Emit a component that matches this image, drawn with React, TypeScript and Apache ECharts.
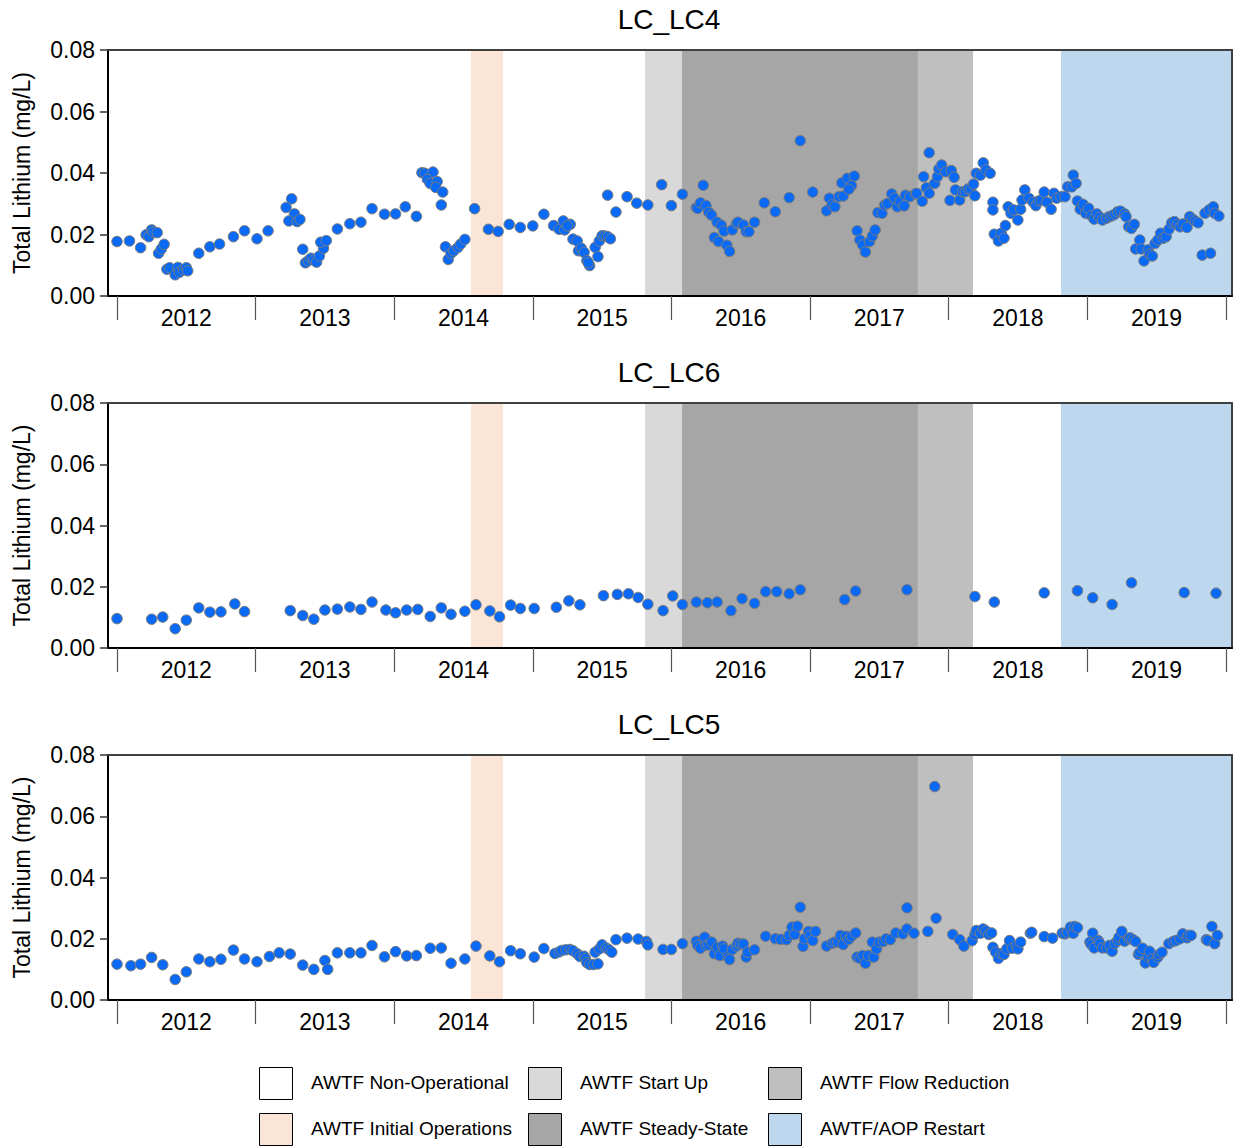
import React, { useEffect, useRef } from "react";
import * as echarts from "echarts";

// ---------- data ----------
const siteTitles = ["LC_LC4", "LC_LC6", "LC_LC5"];
const yearTicks = [2012, 2013, 2014, 2015, 2016, 2017, 2018, 2019, 2020];
const yearLabelPositions = [2012.5, 2013.5, 2014.5, 2015.5, 2016.5, 2017.5, 2018.5, 2019.5];
const yMin = 0;
const yMax = 0.08;
const yStep = 0.02;
const xMin = 2011.935;
const xMax = 2020.045;

// [decimal year, total lithium mg/L]
const lc4: number[][] = [
  [2012.0, 0.0177], [2012.09, 0.0179], [2012.17, 0.0157], [2012.21, 0.0199], [2012.23, 0.0193], [2012.25, 0.0215],
  [2012.26, 0.0208], [2012.29, 0.0206], [2012.3, 0.0139], [2012.32, 0.0153], [2012.34, 0.0168], [2012.36, 0.0087],
  [2012.38, 0.0092], [2012.42, 0.0069], [2012.44, 0.0093], [2012.45, 0.0077], [2012.48, 0.0085], [2012.5, 0.0092],
  [2012.51, 0.0082], [2012.59, 0.0139], [2012.67, 0.016], [2012.74, 0.0169], [2012.84, 0.0193], [2012.92, 0.0212],
  [2013.01, 0.0186], [2013.09, 0.0212], [2013.22, 0.0288], [2013.26, 0.0316], [2013.28, 0.0267], [2013.24, 0.0244],
  [2013.3, 0.0242], [2013.32, 0.0249], [2013.34, 0.0152], [2013.36, 0.0108], [2013.38, 0.0115], [2013.4, 0.0123],
  [2013.42, 0.0117], [2013.44, 0.011], [2013.46, 0.013], [2013.49, 0.0155], [2013.47, 0.0175], [2013.51, 0.018],
  [2013.59, 0.0218], [2013.68, 0.0235], [2013.76, 0.024], [2013.84, 0.0284], [2013.93, 0.0266], [2014.01, 0.0267],
  [2014.08, 0.029], [2014.16, 0.0259], [2014.2, 0.0401], [2014.22, 0.0399], [2014.28, 0.0403], [2014.24, 0.0379],
  [2014.26, 0.0366], [2014.31, 0.0372], [2014.3, 0.0353], [2014.35, 0.0338], [2014.34, 0.0296], [2014.37, 0.016],
  [2014.39, 0.0119], [2014.41, 0.0139], [2014.43, 0.0147], [2014.46, 0.0158], [2014.48, 0.0169], [2014.51, 0.0184],
  [2014.58, 0.0284], [2014.68, 0.0217], [2014.75, 0.021], [2014.83, 0.0233], [2014.91, 0.0223], [2015.0, 0.0228],
  [2015.08, 0.0266], [2015.15, 0.0229], [2015.19, 0.0217], [2015.22, 0.0244], [2015.23, 0.0215], [2015.27, 0.0233],
  [2015.25, 0.0228], [2015.29, 0.0185], [2015.32, 0.0179], [2015.33, 0.0147], [2015.35, 0.0155], [2015.37, 0.0142],
  [2015.39, 0.0115], [2015.41, 0.0099], [2015.4, 0.0108], [2015.45, 0.0158], [2015.47, 0.0128], [2015.48, 0.0179],
  [2015.5, 0.0196], [2015.52, 0.0195], [2015.54, 0.0193], [2015.56, 0.0186], [2015.54, 0.0328], [2015.6, 0.0273],
  [2015.68, 0.0323], [2015.75, 0.0302], [2015.83, 0.0296], [2015.93, 0.0362], [2016.0, 0.0294], [2016.08, 0.0331],
  [2016.23, 0.036], [2016.18, 0.0287], [2016.19, 0.0285], [2016.21, 0.0303], [2016.25, 0.0294], [2016.27, 0.0272],
  [2016.29, 0.0263], [2016.33, 0.024], [2016.36, 0.023], [2016.38, 0.0211], [2016.31, 0.019], [2016.34, 0.0177],
  [2016.4, 0.0165], [2016.42, 0.0145], [2016.44, 0.0215], [2016.47, 0.0236], [2016.48, 0.024], [2016.52, 0.0231],
  [2016.54, 0.0209], [2016.56, 0.0209], [2016.6, 0.024], [2016.67, 0.0303], [2016.75, 0.0274], [2016.85, 0.032],
  [2016.93, 0.0505], [2017.02, 0.0338], [2017.12, 0.0277], [2017.14, 0.0318], [2017.16, 0.0296], [2017.18, 0.029],
  [2017.21, 0.0323], [2017.24, 0.0325], [2017.23, 0.0368], [2017.27, 0.0383], [2017.3, 0.0359], [2017.32, 0.039],
  [2017.28, 0.0347], [2017.34, 0.0212], [2017.36, 0.0182], [2017.38, 0.0166], [2017.4, 0.0143], [2017.43, 0.0177],
  [2017.45, 0.0195], [2017.47, 0.0215], [2017.49, 0.0271], [2017.52, 0.0269], [2017.54, 0.0296], [2017.56, 0.0301],
  [2017.59, 0.0332], [2017.61, 0.0318], [2017.63, 0.029], [2017.65, 0.0307], [2017.68, 0.0293], [2017.69, 0.0328],
  [2017.72, 0.0323], [2017.76, 0.0332], [2017.77, 0.0334], [2017.81, 0.0308], [2017.82, 0.0388], [2017.84, 0.0352],
  [2017.86, 0.0466], [2017.86, 0.0334], [2017.9, 0.0366], [2017.92, 0.0388], [2017.93, 0.0413], [2017.95, 0.0426],
  [2017.98, 0.0404], [2018.01, 0.0311], [2018.02, 0.0408], [2018.04, 0.0386], [2018.05, 0.0345], [2018.08, 0.0312],
  [2018.1, 0.0339], [2018.12, 0.0339], [2018.14, 0.0348], [2018.16, 0.0348], [2018.18, 0.0364], [2018.19, 0.0326],
  [2018.2, 0.0399], [2018.23, 0.0393], [2018.25, 0.0433], [2018.27, 0.041], [2018.3, 0.0399], [2018.32, 0.0305],
  [2018.32, 0.028], [2018.33, 0.0201], [2018.36, 0.0179], [2018.38, 0.0204], [2018.4, 0.0188], [2018.41, 0.0229],
  [2018.43, 0.029], [2018.45, 0.0269], [2018.47, 0.028], [2018.5, 0.0247], [2018.52, 0.0282], [2018.53, 0.0312],
  [2018.55, 0.0345], [2018.58, 0.0318], [2018.61, 0.0305], [2018.63, 0.0294], [2018.65, 0.0309], [2018.67, 0.0312],
  [2018.69, 0.0338], [2018.71, 0.0305], [2018.74, 0.0282], [2018.76, 0.0334], [2018.78, 0.0318], [2018.81, 0.0323],
  [2018.84, 0.0323], [2018.86, 0.0355], [2018.89, 0.0355], [2018.9, 0.0393], [2018.92, 0.0366], [2018.93, 0.0309],
  [2018.95, 0.0282], [2018.97, 0.0298], [2018.99, 0.0269], [2019.01, 0.0285], [2019.03, 0.0261], [2019.05, 0.025],
  [2019.07, 0.0267], [2019.09, 0.0256], [2019.11, 0.0247], [2019.14, 0.0253], [2019.16, 0.0258], [2019.18, 0.0261],
  [2019.2, 0.0266], [2019.22, 0.0274], [2019.24, 0.0276], [2019.27, 0.0267], [2019.28, 0.0258], [2019.3, 0.0225],
  [2019.32, 0.022], [2019.34, 0.0233], [2019.35, 0.0153], [2019.38, 0.0182], [2019.39, 0.0153], [2019.41, 0.0114],
  [2019.44, 0.015], [2019.45, 0.0136], [2019.47, 0.013], [2019.49, 0.0171], [2019.51, 0.0182], [2019.53, 0.0204],
  [2019.55, 0.0188], [2019.57, 0.0193], [2019.59, 0.0217], [2019.61, 0.0238], [2019.63, 0.0242], [2019.65, 0.0233],
  [2019.67, 0.0225], [2019.69, 0.0234], [2019.72, 0.0223], [2019.74, 0.0258], [2019.76, 0.025], [2019.78, 0.0244],
  [2019.8, 0.0238], [2019.83, 0.0133], [2019.85, 0.0269], [2019.89, 0.0139], [2019.88, 0.028], [2019.91, 0.029],
  [2019.92, 0.0269], [2019.95, 0.026],
];

const lc6: number[][] = [
  [2012.0, 0.0096], [2012.25, 0.0094], [2012.33, 0.0101], [2012.42, 0.0063], [2012.5, 0.0091], [2012.59, 0.0131],
  [2012.67, 0.0117], [2012.75, 0.0118], [2012.85, 0.0144], [2012.92, 0.0119], [2013.25, 0.0122], [2013.34, 0.0106],
  [2013.42, 0.0094], [2013.5, 0.0124], [2013.59, 0.0127], [2013.68, 0.0134], [2013.76, 0.0126], [2013.84, 0.015],
  [2013.94, 0.0124], [2014.01, 0.0115], [2014.09, 0.0124], [2014.17, 0.0126], [2014.26, 0.0103], [2014.34, 0.0131],
  [2014.41, 0.011], [2014.51, 0.012], [2014.59, 0.0141], [2014.69, 0.0121], [2014.76, 0.0102], [2014.84, 0.014],
  [2014.91, 0.0129], [2015.01, 0.0129], [2015.17, 0.0133], [2015.26, 0.0154], [2015.34, 0.0141], [2015.51, 0.0171],
  [2015.61, 0.0175], [2015.69, 0.0177], [2015.76, 0.0165], [2015.83, 0.0143], [2015.94, 0.0122], [2016.01, 0.017],
  [2016.08, 0.0142], [2016.18, 0.015], [2016.26, 0.0148], [2016.33, 0.015], [2016.43, 0.0122], [2016.51, 0.0161],
  [2016.6, 0.0146], [2016.68, 0.0184], [2016.76, 0.0184], [2016.85, 0.0177], [2016.93, 0.019], [2017.25, 0.0158],
  [2017.33, 0.0186], [2017.7, 0.019], [2018.19, 0.0168], [2018.33, 0.015], [2018.69, 0.018], [2018.93, 0.0187],
  [2019.04, 0.0164], [2019.18, 0.0142], [2019.32, 0.0213], [2019.7, 0.0181], [2019.93, 0.0179],
];

const lc5: number[][] = [
  [2012.0, 0.0117], [2012.1, 0.0112], [2012.17, 0.0117], [2012.25, 0.0139], [2012.33, 0.0115], [2012.42, 0.0067],
  [2012.5, 0.0092], [2012.59, 0.0134], [2012.67, 0.0125], [2012.75, 0.0133], [2012.84, 0.0163], [2012.92, 0.0134],
  [2013.01, 0.0125], [2013.1, 0.0142], [2013.17, 0.0154], [2013.25, 0.015], [2013.34, 0.0114], [2013.42, 0.01],
  [2013.5, 0.0129], [2013.52, 0.01], [2013.59, 0.0154], [2013.68, 0.0154], [2013.76, 0.0154], [2013.84, 0.0178],
  [2013.93, 0.0141], [2014.01, 0.0158], [2014.09, 0.0144], [2014.16, 0.0145], [2014.26, 0.0169], [2014.34, 0.017],
  [2014.41, 0.012], [2014.51, 0.0134], [2014.59, 0.0176], [2014.69, 0.0144], [2014.76, 0.0125], [2014.84, 0.0161],
  [2014.91, 0.0151], [2015.01, 0.014], [2015.08, 0.0168], [2015.16, 0.0152], [2015.19, 0.0157], [2015.21, 0.0162],
  [2015.24, 0.0164], [2015.27, 0.0165], [2015.29, 0.0161], [2015.32, 0.0151], [2015.34, 0.0142], [2015.37, 0.0143],
  [2015.38, 0.0135], [2015.39, 0.0122], [2015.41, 0.0116], [2015.44, 0.0116], [2015.47, 0.0118], [2015.45, 0.0156],
  [2015.48, 0.0167], [2015.5, 0.018], [2015.53, 0.017], [2015.55, 0.0164], [2015.57, 0.0156], [2015.6, 0.0197],
  [2015.68, 0.0202], [2015.76, 0.0199], [2015.82, 0.0191], [2015.83, 0.018], [2015.94, 0.0165], [2016.0, 0.0165],
  [2016.08, 0.0184], [2016.18, 0.0192], [2016.19, 0.0178], [2016.21, 0.0169], [2016.24, 0.0205], [2016.25, 0.0178],
  [2016.27, 0.018], [2016.29, 0.0189], [2016.31, 0.0151], [2016.33, 0.0172], [2016.35, 0.0145], [2016.37, 0.0176],
  [2016.38, 0.0167], [2016.41, 0.014], [2016.42, 0.0132], [2016.44, 0.0165], [2016.47, 0.0176], [2016.48, 0.0185],
  [2016.5, 0.0183], [2016.52, 0.0183], [2016.54, 0.014], [2016.55, 0.0156], [2016.6, 0.0164], [2016.68, 0.0208],
  [2016.75, 0.02], [2016.79, 0.0198], [2016.83, 0.0197], [2016.85, 0.0211], [2016.87, 0.0238], [2016.89, 0.0214],
  [2016.91, 0.0241], [2016.93, 0.0303], [2016.95, 0.0175], [2016.96, 0.02], [2016.99, 0.0224], [2017.0, 0.0211],
  [2017.02, 0.0194], [2017.04, 0.0224], [2017.12, 0.0176], [2017.16, 0.0185], [2017.18, 0.0189], [2017.2, 0.0189],
  [2017.22, 0.0211], [2017.24, 0.0181], [2017.26, 0.0208], [2017.28, 0.0198], [2017.3, 0.0208], [2017.33, 0.0219],
  [2017.34, 0.014], [2017.36, 0.0136], [2017.38, 0.0145], [2017.4, 0.012], [2017.42, 0.0145], [2017.45, 0.0189],
  [2017.46, 0.014], [2017.48, 0.0167], [2017.5, 0.0189], [2017.53, 0.0191], [2017.55, 0.02], [2017.58, 0.0197],
  [2017.62, 0.0219], [2017.67, 0.0216], [2017.7, 0.0301], [2017.7, 0.0232], [2017.75, 0.0218], [2017.85, 0.0224],
  [2017.9, 0.0697], [2017.91, 0.0267], [2018.03, 0.0214], [2018.08, 0.0197], [2018.11, 0.0176], [2018.17, 0.0194],
  [2018.19, 0.0214], [2018.2, 0.0227], [2018.23, 0.0218], [2018.25, 0.0232], [2018.27, 0.0225], [2018.29, 0.0214],
  [2018.31, 0.0219], [2018.32, 0.0172], [2018.34, 0.0156], [2018.36, 0.0136], [2018.38, 0.0151], [2018.4, 0.0149],
  [2018.42, 0.0167], [2018.44, 0.0194], [2018.46, 0.0169], [2018.49, 0.0178], [2018.5, 0.0167], [2018.52, 0.0189],
  [2018.59, 0.0218], [2018.6, 0.0221], [2018.69, 0.0207], [2018.75, 0.0202], [2018.82, 0.0218], [2018.84, 0.0216],
  [2018.86, 0.0221], [2018.88, 0.0238], [2018.9, 0.0218], [2018.91, 0.024], [2018.93, 0.0236], [2019.04, 0.0218],
  [2019.02, 0.0189], [2019.03, 0.0181], [2019.05, 0.017], [2019.08, 0.0194], [2019.09, 0.0185], [2019.11, 0.017],
  [2019.14, 0.017], [2019.16, 0.0178], [2019.18, 0.0159], [2019.2, 0.0185], [2019.22, 0.0194], [2019.23, 0.0205],
  [2019.25, 0.0224], [2019.27, 0.0192], [2019.3, 0.02], [2019.31, 0.0203], [2019.33, 0.0197], [2019.35, 0.0191],
  [2019.37, 0.0149], [2019.38, 0.0156], [2019.4, 0.0169], [2019.42, 0.0121], [2019.44, 0.014], [2019.45, 0.0159],
  [2019.47, 0.0134], [2019.48, 0.0123], [2019.51, 0.014], [2019.52, 0.0149], [2019.54, 0.0156], [2019.59, 0.0184],
  [2019.62, 0.0191], [2019.64, 0.0194], [2019.67, 0.02], [2019.69, 0.0216], [2019.72, 0.0203], [2019.73, 0.0211],
  [2019.75, 0.0211], [2019.86, 0.0197], [2019.87, 0.0194], [2019.9, 0.024], [2019.92, 0.0184], [2019.94, 0.0211],
];

const siteData = [lc4, lc6, lc5];

// operational phases shaded behind the points (decimal years)
const phaseNames = ["AWTF Initial Operations", "AWTF Start Up", "AWTF Steady-State", "AWTF Flow Reduction", "AWTF/AOP Restart"];
const phaseStarts = [2014.554, 2015.81, 2016.077, 2017.779, 2018.811];
const phaseEnds = [2014.785, 2016.077, 2017.779, 2018.176, xMax];
const phaseColors = ["#FBE5D6", "#D9D9D9", "#A6A6A6", "#BFBFBF", "#BDD7EE"];

// legend, in reading order (two rows of three)
const legendNames = [
  "AWTF Non-Operational", "AWTF Start Up", "AWTF Flow Reduction",
  "AWTF Initial Operations", "AWTF Steady-State", "AWTF/AOP Restart",
];
const legendColors = ["#FFFFFF", "#D9D9D9", "#BFBFBF", "#FBE5D6", "#A6A6A6", "#BDD7EE"];

// ---------- layout ----------
const FONT = "'Liberation Sans', Arial, Helvetica, sans-serif";
const gridTops = [50, 403, 755];
const gridHeights = [246, 245, 245];
const GRID_LEFT = 108;
const GRID_WIDTH = 1124;

function buildOption() {
  const grids: any[] = [];
  const xAxes: any[] = [];
  const yAxes: any[] = [];
  const series: any[] = [];
  const titles: any[] = [];

  siteTitles.forEach((t, i) => {
    grids.push({ left: GRID_LEFT, top: gridTops[i], width: GRID_WIDTH, height: gridHeights[i], containLabel: false });
    titles.push({
      text: t,
      left: GRID_LEFT + GRID_WIDTH / 2 - 6,
      top: gridTops[i] - 50,
      textAlign: "center",
      textStyle: { fontFamily: FONT, fontSize: 28, fontWeight: "normal", color: "#000" },
    });
    // bottom x axis (ticks at year boundaries, labels mid-year)
    xAxes.push({
      type: "value",
      gridIndex: i,
      position: "bottom",
      min: xMin,
      max: xMax,
      z: 10,
      axisLine: { show: true, onZero: false, lineStyle: { color: "#000", width: 2 } },
      axisTick: { show: true, customValues: yearTicks, length: 24, lineStyle: { color: "#555", width: 1.2 } },
      axisLabel: {
        show: true,
        customValues: yearLabelPositions,
        formatter: (v: number) => String(Math.floor(v)),
        fontFamily: FONT,
        fontSize: 23,
        color: "#000",
        margin: 10,
      },
      splitLine: { show: false },
    });
    // top frame line
    xAxes.push({
      type: "value",
      gridIndex: i,
      position: "top",
      min: xMin,
      max: xMax,
      z: 10,
      axisLine: { show: true, onZero: false, lineStyle: { color: "#404040", width: 2 } },
      axisTick: { show: false },
      axisLabel: { show: false },
      splitLine: { show: false },
    });
    yAxes.push({
      type: "value",
      gridIndex: i,
      position: "left",
      min: yMin,
      max: yMax,
      interval: yStep,
      z: 10,
      name: "Total Lithium (mg/L)",
      nameLocation: "middle",
      nameGap: 75,
      nameTextStyle: { fontFamily: FONT, fontSize: 23, color: "#000" },
      axisLine: { show: true, onZero: false, lineStyle: { color: "#000", width: 2 } },
      axisTick: { show: true, length: 8, lineStyle: { color: "#333", width: 1.5 } },
      axisLabel: {
        fontFamily: FONT,
        fontSize: 23,
        color: "#000",
        margin: 13,
        formatter: (v: number) => v.toFixed(2),
      },
      splitLine: { show: false },
    });
    yAxes.push({
      type: "value",
      gridIndex: i,
      position: "right",
      min: yMin,
      max: yMax,
      interval: yStep,
      z: 10,
      axisLine: { show: true, onZero: false, lineStyle: { color: "#404040", width: 2 } },
      axisTick: { show: false },
      axisLabel: { show: false },
      splitLine: { show: false },
    });

    series.push({
      type: "scatter",
      name: t,
      xAxisIndex: i * 2,
      yAxisIndex: i * 2,
      data: siteData[i],
      symbol: "circle",
      symbolSize: 10.5,
      z: 3,
      itemStyle: { color: "#0A6AF5", borderColor: "#7A7A7A", borderWidth: 1, opacity: 1 },
      markArea: {
        silent: true,
        z: 1,
        label: { show: false },
        data: phaseNames.map((n, k) => [
          { name: n, xAxis: phaseStarts[k], itemStyle: { color: phaseColors[k], opacity: 1 } },
          { xAxis: phaseEnds[k] },
        ]),
      },
    });
  });

  const colX = [259, 528, 768];
  const rowY = [1067, 1113];
  const graphic: any[] = [];
  legendNames.forEach((n, i) => {
    const col = i % 3;
    const row = Math.floor(i / 3);
    graphic.push({
      type: "rect",
      left: colX[col],
      top: rowY[row],
      shape: { width: 33, height: 32 },
      style: { fill: legendColors[i], stroke: "#000", lineWidth: 1 },
    });
    graphic.push({
      type: "text",
      left: colX[col] + 52,
      top: rowY[row] + 6,
      style: { text: n, fontFamily: FONT, fontSize: 19, fill: "#000" },
    });
  });

  return {
    animation: false,
    backgroundColor: "#fff",
    title: titles,
    grid: grids,
    xAxis: xAxes,
    yAxis: yAxes,
    series,
    graphic,
  };
}

export default function App() {
  const ref = useRef<HTMLDivElement>(null);
  useEffect(() => {
    if (!ref.current) return;
    const chart = echarts.init(ref.current, undefined, { renderer: "svg" });
    chart.setOption(buildOption() as any);
    return () => chart.dispose();
  }, []);
  return (
    <div
      ref={ref}
      style={{ position: "fixed", left: 0, top: 0, width: 1236, height: 1147, background: "#fff" }}
    />
  );
}
